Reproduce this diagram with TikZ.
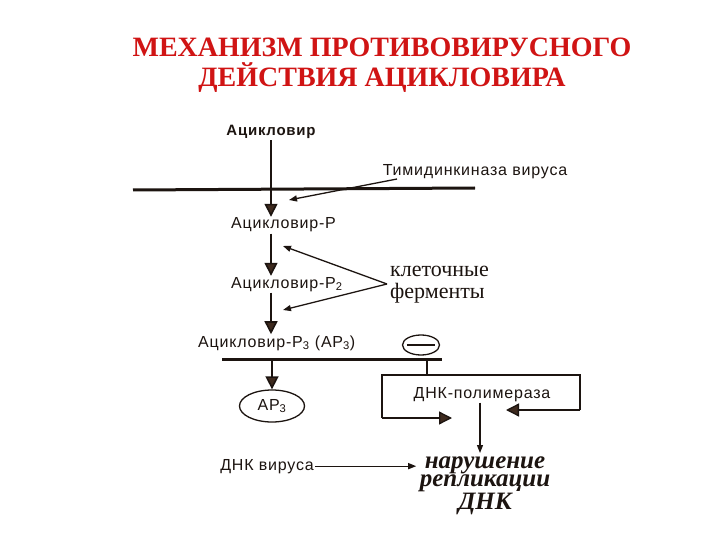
\documentclass[tikz,border=0pt]{standalone}
\usepackage{fontspec}
\setmainfont{Liberation Serif}
\setsansfont{Liberation Sans}[LetterSpace=5]
\usetikzlibrary{arrows.meta,shapes.geometric}
\definecolor{titlered}{HTML}{D01414}
\definecolor{ink}{HTML}{1C1410}
\definecolor{tipbrown}{HTML}{3E2A1E}
\tikzset{
  lbl/.style={font=\sffamily\fontsize{16}{18}\selectfont,text=ink,inner sep=1pt},
  serifnote/.style={font=\fontsize{22}{22}\selectfont,text=ink,align=left,inner sep=1pt},
  membrane/.style={draw=ink,line width=3pt},
  bigarrow/.style={draw=ink,line width=1.6pt,-{Triangle[width=13pt,length=13pt,fill=tipbrown]}},
  thinarrow/.style={draw=ink,line width=1.3pt,-{Triangle[width=6pt,length=8pt]}},
  loopline/.style={draw=ink,line width=1.3pt},
}

\begin{document}
\begin{tikzpicture}[x=1pt,y=-1pt]
\useasboundingbox[fill=white] (0,0) rectangle (720,540);
% title
\node[anchor=base,text=titlered,font=\bfseries\fontsize{28}{30}\selectfont] (title1) at (382,57) {МЕХАНИЗМ ПРОТИВОВИРУСНОГО};
\node[anchor=base,text=titlered,font=\bfseries\fontsize{28}{30}\selectfont] (title2) at (382,87) {ДЕЙСТВИЯ АЦИКЛОВИРА};
% membranes
\coordinate (m1a) at (133,190);
\coordinate (m1b) at (475,188);
\coordinate (m2a) at (222,359);
\coordinate (m2b) at (442,359);
\draw[membrane] (m1a) -- (m1b);
\draw[membrane] (m2a) -- (m2b);
% phosphorylation chain
\node[lbl,anchor=base,font=\sffamily\bfseries\fontsize{15}{17}\selectfont] (acv) at (271,136) {Ацикловир};
\node[lbl,anchor=base] (tk) at (475,176) {Тимидинкиназа вируса};
\node[lbl,anchor=base west] (acvp) at (230,229) {Ацикловир-Р};
\node[lbl,anchor=base west] (acvp2) at (230,288) {Ацикловир-Р\textsubscript{2}};
\node[lbl,anchor=base west] (acvp3) at (197,347) {Ацикловир-Р\textsubscript{3} (АР\textsubscript{3})};
\node[serifnote,anchor=base west] (enz) at (389,298) {клеточные\\ферменты};
\draw[bigarrow] (acv.south) -- (acv.south |- acvp.north);
\draw[bigarrow] (acv.south |- acvp.south) -- (acv.south |- acvp2.north);
\draw[bigarrow] (acv.south |- acvp2.south) -- (acv.south |- acvp3.north);
\coordinate (tkstart) at (397,179);
\coordinate (tkend) at (289,200);
\coordinate (enzup) at (283,246);
\coordinate (enzdown) at (283,310);
\coordinate (enzsrc) at (387,284);
\draw[thinarrow] (tkstart) -- (tkend);
\draw[thinarrow] (enzsrc) -- (enzup);
\draw[thinarrow] (enzsrc) -- (enzdown);
% below the membrane
\node[draw=ink,line width=1.3pt,ellipse,minimum width=65pt,minimum height=32pt,lbl] (ap3) at (272,406) {АР\textsubscript{3}};
\draw[bigarrow] (ap3.north |- m2a) -- (ap3.north);
\node[draw=ink,line width=1.3pt,ellipse,minimum width=37pt,minimum height=20pt,inner sep=0pt] (inhib) at (421,345) {};
\draw[line width=1.6pt,draw=ink] ([xshift=5pt]inhib.west) -- ([xshift=-5pt]inhib.east);
\node[lbl,anchor=base] (pol) at (482,398) {ДНК-полимераза};
\coordinate (lpa) at (427,359);
\coordinate (lpb) at (427,375);
\coordinate (lpl) at (382,375);
\coordinate (lpr) at (580,375);
\coordinate (lpbl) at (382,418);
\coordinate (lpbr) at (580,410);
\coordinate (tipl) at (452,418);
\coordinate (tipr) at (506,410);
\draw[loopline] (lpa) -- (lpb);
\draw[loopline] (lpbl) -- (lpl) -- (lpr) -- (lpbr);
\draw[bigarrow,line width=1.3pt] (lpbl) -- (tipl);
\draw[bigarrow,line width=1.3pt] (lpbr) -- (tipr);
\node[lbl,anchor=base] (dnav) at (267,470) {ДНК вируса};
\node[anchor=north,align=center,text=ink,font=\bfseries\itshape\fontsize{25}{18.5}\selectfont] (result) at (485,453) {нарушение\\репликации\\ДНК};
\draw[thinarrow] (pol.south -| 480,0) -- (result.north -| 480,0);
\draw[thinarrow] (dnav.east) -- (result.west |- dnav.east);
\end{tikzpicture}
\end{document}
